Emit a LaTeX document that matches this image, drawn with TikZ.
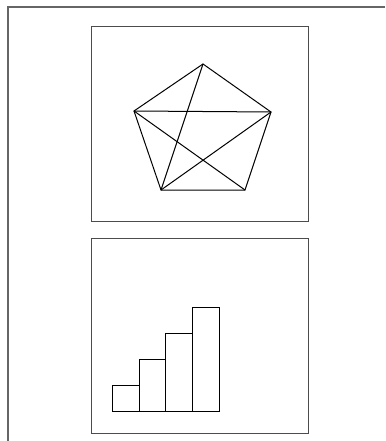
\documentclass[tikz,border=0pt]{standalone}
\usepackage{tikz}

\begin{document}
\begin{tikzpicture}[x=1pt,y=-1pt]

\useasboundingbox (0,0) rectangle (385,441);

% page edge (top and left only)
\draw[gray!80!black,line width=1.5pt] (385,7) -- (8,7) -- (8,441);

% upper panel
\draw[gray!60!black,line width=0.9pt] (91,26) rectangle (308,221);

% pentagon corners
\coordinate (top) at (203,64);
\coordinate (ul) at (134,111);
\coordinate (ur) at (271,112);
\coordinate (ll) at (161,190);
\coordinate (lr) at (245,190);

\draw[line width=1pt] (top) -- (ur) -- (lr) -- (ll) -- (ul) -- cycle;
\draw[line width=1pt] (top) -- (ll);
\draw[line width=1pt] (ul) -- (ur);
\draw[line width=1pt] (ul) -- (lr);
\draw[line width=1pt] (ll) -- (ur);

% lower panel
\draw[gray!60!black,line width=0.9pt] (91,238) rectangle (308,433);

% bars
\draw[line width=0.9pt] (112,411) rectangle (139,385);
\draw[line width=0.9pt] (139,411) rectangle (165,359);
\draw[line width=0.9pt] (165,411) rectangle (192,333);
\draw[line width=0.9pt] (192,411) rectangle (219,307);

\end{tikzpicture}
\end{document}
